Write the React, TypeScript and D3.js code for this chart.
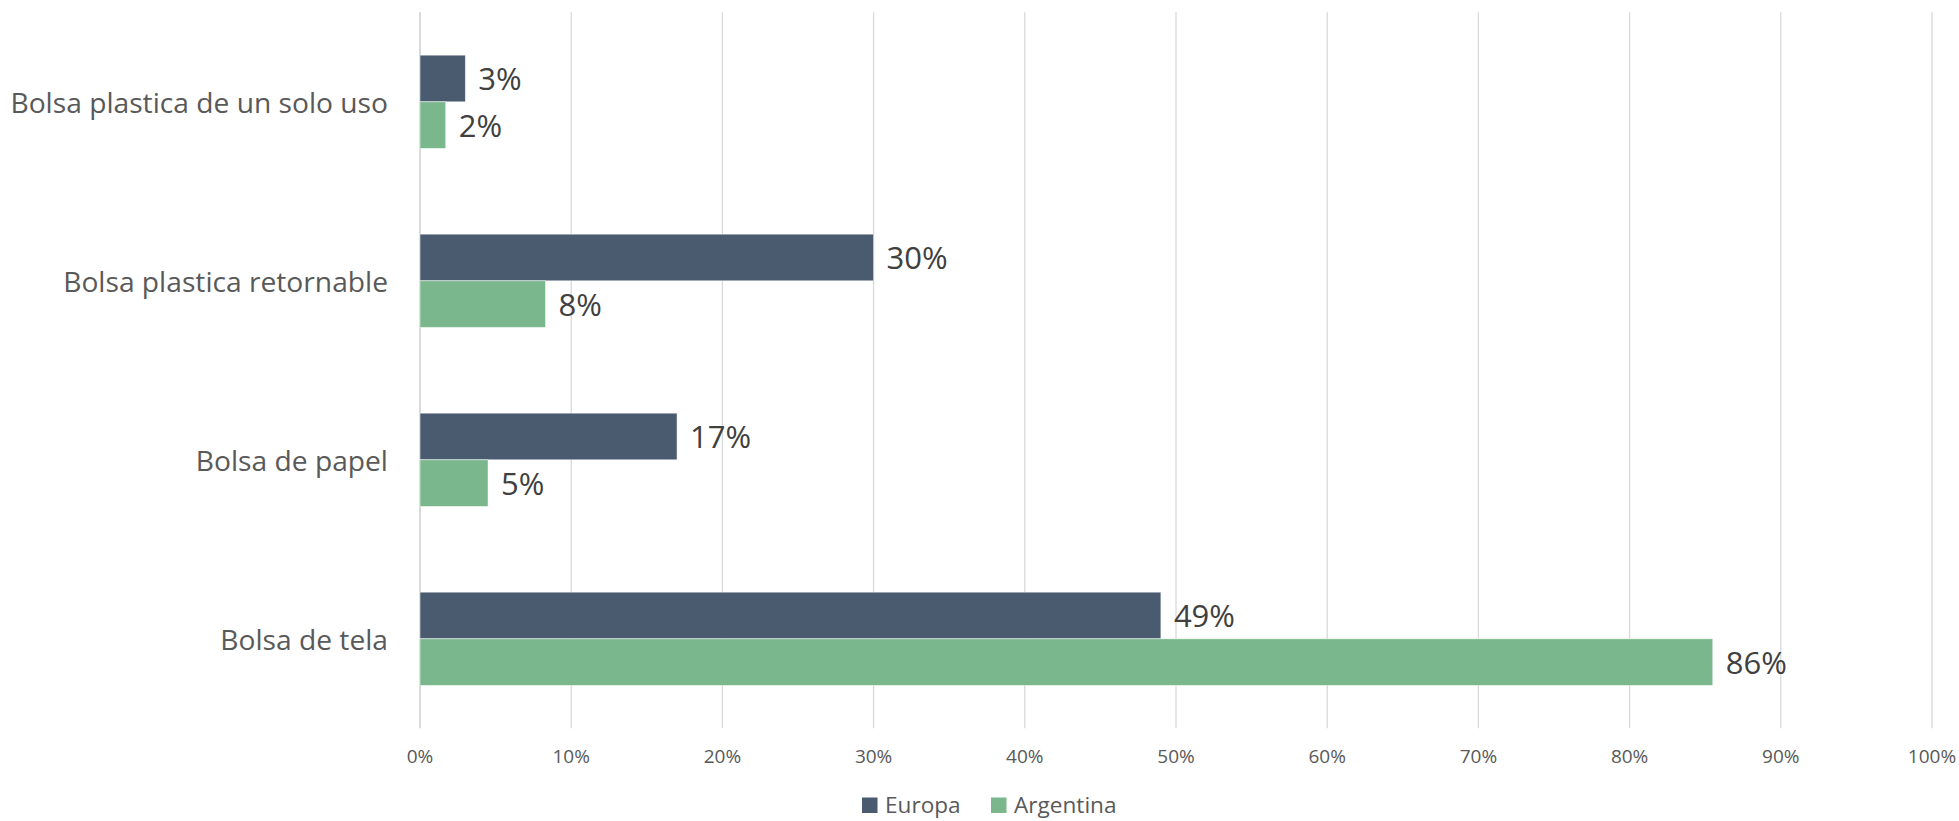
import React from "react";
import * as d3 from "d3";

const categories = [
  "Bolsa plastica de un solo uso",
  "Bolsa plastica retornable",
  "Bolsa de papel",
  "Bolsa de tela",
];
const seriesNames = ["Europa", "Argentina"];
const europa = [0.03, 0.3, 0.17, 0.49];
const argentina = [0.017, 0.083, 0.045, 0.855];
const labelsEuropa = ["3%", "30%", "17%", "49%"];
const labelsArgentina = ["2%", "8%", "5%", "86%"];
const tickValues = [0, 0.1, 0.2, 0.3, 0.4, 0.5, 0.6, 0.7, 0.8, 0.9, 1];
const colors = ["#4a5b70", "#7bb78c"];

const W = 1959;
const H = 821;
const FONT = "'Open Sans', 'Segoe UI', sans-serif";

export default function App() {
  const x = d3.scaleLinear().domain([0, 1]).range([420, 1932]);
  const y = d3
    .scaleBand<string>()
    .domain(categories)
    .range([12.3, 728.3])
    .paddingInner(0.479)
    .paddingOuter(0.2395);
  const sub = d3
    .scaleBand<string>()
    .domain(seriesNames)
    .range([0, y.bandwidth()]);
  const series = [
    { name: "Europa", values: europa, labels: labelsEuropa, color: colors[0] },
    { name: "Argentina", values: argentina, labels: labelsArgentina, color: colors[1] },
  ];
  const fmt = d3.format(".0%");

  return (
    <svg
      width={W}
      height={H}
      style={{ position: "absolute", left: 0, top: 0, background: "#fff" }}
      fontFamily={FONT}
    >
      <rect x={0} y={0} width={W} height={H} fill="#fff" />
      {tickValues.map((t) => (
        <g key={t}>
          <line
            x1={x(t)}
            x2={x(t)}
            y1={12.3}
            y2={728.3}
            stroke="#d9d9d9"
            strokeWidth={t === 0 ? 2 : 1.3}
          />
          <text
            x={x(t)}
            y={755.7}
            textAnchor="middle"
            dominantBaseline="central"
            fontSize={19}
            fill="#595959"
          >
            {fmt(t)}
          </text>
        </g>
      ))}
      {categories.map((c) => (
        <text
          key={c}
          x={388}
          y={(y(c) ?? 0) + y.bandwidth() / 2}
          textAnchor="end"
          dominantBaseline="central"
          fontSize={28.2}
          fill="#595959"
        >
          {c}
        </text>
      ))}
      {series.map((s) =>
        categories.map((c, i) => {
          const y0 = (y(c) ?? 0) + (sub(s.name) ?? 0);
          const bh = sub.bandwidth();
          return (
            <g key={s.name + c}>
              <rect
                x={x(0)}
                y={y0}
                width={x(s.values[i]) - x(0)}
                height={bh}
                fill={s.color}
                stroke="#ffffff"
                strokeOpacity={0.6}
                strokeWidth={0.8}
              />
              <text
                x={x(s.values[i]) + 13}
                y={y0 + bh / 2}
                dominantBaseline="central"
                fontSize={31}
                fill="#404040"
              >
                {s.labels[i]}
              </text>
            </g>
          );
        })
      )}
      {series.map((s, i) => {
        const lx = [862, 991][i];
        return (
          <g key={s.name}>
            <rect x={lx} y={797.5} width={15.5} height={15.5} fill={s.color} />
            <text x={lx + 23} y={813} fontSize={22.6} fill="#595959">
              {s.name}
            </text>
          </g>
        );
      })}
    </svg>
  );
}
